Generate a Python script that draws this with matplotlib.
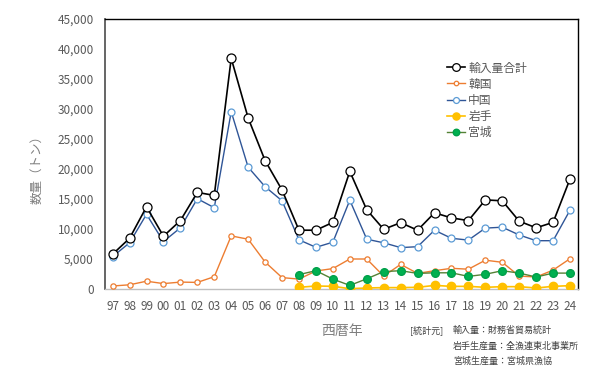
import matplotlib
matplotlib.use("Agg")
import matplotlib.pyplot as plt
from matplotlib.ticker import FuncFormatter

plt.rcParams['font.family'] = ['Noto Sans CJK JP', 'DejaVu Sans']

years = ['97', '98', '99', '00', '01', '02', '03', '04', '05', '06', '07', '08', '09', '10',
         '11', '12', '13', '14', '15', '16', '17', '18', '19', '20', '21', '22', '23', '24']

total = [5800, 8450, 13700, 8800, 11400, 16100, 15600, 38450, 28500, 21400, 16500, 9800, 9800, 11100,
         19600, 13200, 9950, 11050, 9800, 12700, 11850, 11400, 14850, 14700, 11300, 10200, 11100, 18350]
china = [5400, 7700, 12450, 7900, 10200, 15050, 13550, 29550, 20300, 17050, 14700, 8200, 6950, 7800,
         14800, 8300, 7700, 6900, 7050, 9800, 8450, 8150, 10150, 10300, 9000, 8050, 8050, 13150]
korea = [500, 700, 1300, 900, 1150, 1100, 2050, 8850, 8300, 4500, 1900, 1650, 3000, 3400,
         5000, 5000, 2150, 4100, 2600, 3050, 3450, 3300, 4800, 4450, 2150, 2000, 3150, 5050]
iwate_years = years[11:]
iwate = [280, 500, 450, 50, 170, 230, 230, 280, 600, 440, 440, 280, 390, 390, 170, 440, 560]
miyagi = [2400, 3050, 1650, 600, 1700, 2900, 3050, 2600, 2700, 2700, 2100, 2450, 3050, 2650, 2000, 2650, 2650]

x_all = list(range(len(years)))
x_pref = list(range(11, len(years)))

fig = plt.figure(figsize=(6.12, 3.73), dpi=100)
ax = fig.add_axes([105 / 612, 1 - 289 / 373, 473 / 612, 270 / 373])

ax.plot(x_all, total, color='black', lw=1.2, marker='o', ms=6.5,
        mfc='white', mec='black', mew=0.9, label='輸入量合計', zorder=5)
ax.plot(x_all, korea, color='#ED7D31', lw=1.0, marker='o', ms=3.8,
        mfc='white', mec='#ED7D31', mew=0.9, label='韓国', zorder=3)
ax.plot(x_all, china, color='#2F5597', lw=1.0, marker='o', ms=5,
        mfc='white', mec='#5B9BD5', mew=0.9, label='中国', zorder=4)
ax.plot(x_pref, iwate, color='#FFC000', lw=1.2, marker='o', ms=6,
        mfc='#FFC000', mec='#FFC000', label='岩手', zorder=3)
ax.plot(x_pref, miyagi, color='#548235', lw=1.0, marker='o', ms=5.5,
        mfc='#00B050', mec='#00A04A', label='宮城', zorder=3)

ax.set_xlim(-0.45, 27.47)
ax.set_ylim(0, 45000)
ax.set_yticks(range(0, 45001, 5000))
ax.yaxis.set_major_formatter(FuncFormatter(lambda v, p: f'{int(v):,}'))
ax.set_xticks(x_all)
ax.set_xticklabels(years)
ax.tick_params(axis='both', length=0, labelsize=8.5, colors='#595959')
ax.tick_params(axis='x', pad=8)
ax.tick_params(axis='y', pad=8)

for s in ['top', 'right']:
    ax.spines[s].set_color('black')
    ax.spines[s].set_linewidth(1.0)
ax.spines['left'].set_color('#595959')
ax.spines['left'].set_linewidth(1.3)
ax.spines['bottom'].set_color('#BFBFBF')
ax.spines['bottom'].set_linewidth(1.0)

leg = ax.legend(loc='upper left', bbox_to_anchor=(0.723, 0.843), frameon=False,
                fontsize=8.5, handlelength=1.5, handletextpad=0.3, labelspacing=0.27,
                borderaxespad=0, borderpad=0, markerscale=0.85)
for t in leg.get_texts():
    t.set_color('#595959')

fig.text(37 / 612, 1 - 166 / 373, '数量（トン）', rotation=90, ha='center', va='center',
         fontsize=9, color='#7F7F7F')
fig.text(342 / 612, 1 - 331 / 373, '西暦年', ha='center', va='center', fontsize=10, color='#7F7F7F')
fig.text(427 / 612, 1 - 330 / 373, '[統計元]', ha='center', va='center', fontsize=6.5, color='#404040')
fig.text(453 / 612, 1 - 330 / 373, '輸入量：財務省貿易統計', ha='left', va='center', fontsize=6.5, color='#404040')
fig.text(453 / 612, 1 - 346 / 373, '岩手生産量：全漁連東北事業所', ha='left', va='center', fontsize=6.5, color='#404040')
fig.text(453 / 612, 1 - 361 / 373, '宮城生産量：宮城県漁協', ha='left', va='center', fontsize=6.5, color='#404040')

fig.savefig('out.png', dpi=100)
